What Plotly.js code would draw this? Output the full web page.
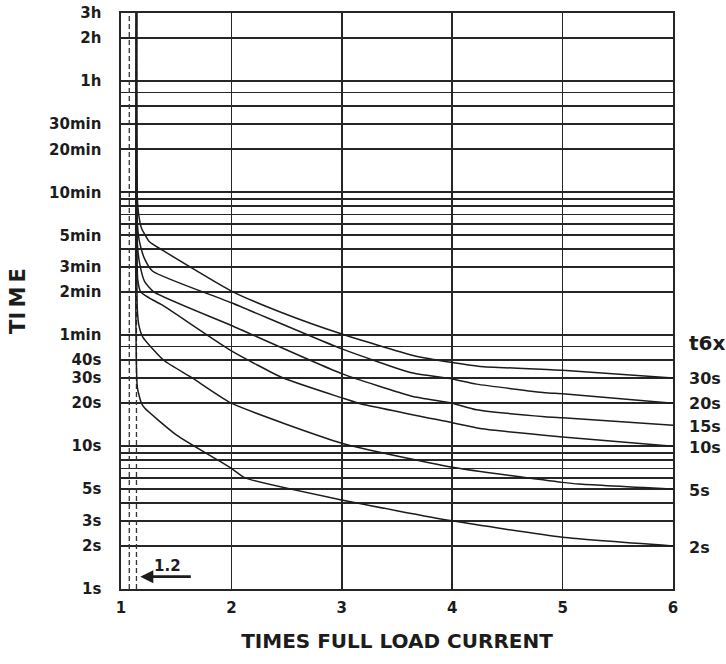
<!DOCTYPE html>
<html>
<head>
<meta charset="utf-8">
<script src="https://cdn.plot.ly/plotly-3.0.1.min.js"></script>
<style>html,body{margin:0;padding:0;background:#fff;}#chart{width:726px;height:664px;}</style>
</head>
<body>
<div id="chart"></div>
<script>
// ---- data ----
const xTickVals = [1, 2, 3, 4, 5, 6];
const yGridSeconds = [1,2,3,4,5,6,7,8,9,10,20,30,40,50,60,120,180,240,300,360,420,480,540,600,1200,1800,2400,3000,3600,7200,10800];
const yTickText = ['1s','2s','3s','','5s','','','','','10s','20s','30s','40s','','1min','2min','3min','','5min','','','','','10min','20min','30min','','','1h','2h','3h'];

// curves named by their trip time at 6x full load current
const curve30sX = [1.14,1.148,1.161,1.185,1.258,1.375,2.0,2.46,3.0,3.646,4.0,4.253,5.0,6.0];
const curve30sY = [10800,550,415,337,270,236,122,86,61,43.2,38.5,36.2,34,30];
const curve20sX = [1.14,1.148,1.17,1.214,1.287,2.0,3.0,3.632,4.0,4.22,4.84,5.0,6.0];
const curve20sY = [10800,365,264,205,168,101,48,32.7,29.6,27.2,23.7,23.3,20];
const curve15sX = [1.14,1.148,1.17,1.214,1.3,2.0,3.0,3.632,4.0,4.22,4.84,5.0,6.0];
const curve15sY = [10800,264,188,142,120,70,32.2,22.4,20,18,16.1,15.8,14];
const curve10sX = [1.14,1.152,1.179,1.258,1.372,2.0,2.47,3.0,3.15,4.0,4.253,5.0,6.0];
const curve10sY = [10800,146,120,109,97.5,46.5,30,21.8,20,14.6,13.3,11.6,10];
const curve5sX = [1.14,1.148,1.164,1.199,1.39,1.639,2.0,3.0,4.0,5.0,5.148,6.0];
const curve5sY = [10800,90,69,57.8,39.8,30.3,20,10.5,7.13,5.58,5.43,5];
const curve2sX = [1.14,1.148,1.185,1.214,1.507,2.0,2.124,3.0,4.0,5.0,6.0];
const curve2sY = [10800,25.8,20,18.5,11.9,7,6,4.2,3,2.3,2];

const dashedLineX = [1.075, 1.14];
const curveLabels = ['30s','20s','15s','10s','5s','2s'];
const curveLabelSeconds = [29.8, 20, 13.7, 9.8, 4.87, 1.95];
const headerLabel = 't6x';
const headerSeconds = 52.8;
const arrowX = 1.175;
const arrowLabel = '1.2';

// ---- build ----
const FONT = 'DejaVu Sans';
const INK = '#1c1c1c';
const traces = [];
const curves = [[curve30sX,curve30sY],[curve20sX,curve20sY],[curve15sX,curve15sY],[curve10sX,curve10sY],[curve5sX,curve5sY],[curve2sX,curve2sY]];
dashedLineX.forEach(function(xv){
  traces.push({x:[xv,xv], y:[yGridSeconds[0], yGridSeconds[yGridSeconds.length-1]], mode:'lines',
    line:{color:'#333', width:1.3, dash:'5px,3px'}, hoverinfo:'skip'});
});
curves.forEach(function(c){
  traces.push({x:c[0], y:c[1], mode:'lines', line:{color:INK, width:1.5, shape:'spline', smoothing:0.5}, hoverinfo:'skip'});
});

const annotations = [];
curveLabels.forEach(function(t,i){
  annotations.push({xref:'paper', yref:'y', x:1.026, y:Math.log10(curveLabelSeconds[i]), text:t,
    showarrow:false, xanchor:'left', yanchor:'middle',
    font:{family:FONT, size:16, weight:'bold', color:INK}});
});
annotations.push({xref:'paper', yref:'y', x:1.026, y:Math.log10(headerSeconds), text:headerLabel,
  showarrow:false, xanchor:'left', yanchor:'middle',
  font:{family:FONT, size:20, weight:'bold', color:INK}});
annotations.push({xref:'x', yref:'y', x:arrowX, y:Math.log10(1.22), text:'', showarrow:true,
  ax:52, ay:0, arrowhead:2, arrowsize:1, arrowwidth:2.6, arrowcolor:INK, standoff:0, startstandoff:0});
annotations.push({xref:'x', yref:'y', x:arrowX + 0.25, y:Math.log10(1.45), text:arrowLabel, showarrow:false,
  xanchor:'center', yanchor:'middle', font:{family:FONT, size:15, weight:'bold', color:INK}});

const layout = {
  width:726, height:664,
  margin:{l:121, r:53, t:13, b:75},
  paper_bgcolor:'#fff', plot_bgcolor:'#fff',
  showlegend:false,
  font:{family:FONT, color:INK},
  xaxis:{
    range:[xTickVals[0], xTickVals[xTickVals.length-1]],
    tickvals:xTickVals, ticktext:xTickVals.map(String),
    showgrid:true, gridcolor:'#262626', gridwidth:1.6,
    showline:true, mirror:true, linecolor:'#262626', linewidth:1.6,
    ticks:'outside', ticklen:4, tickcolor:'rgba(0,0,0,0)',
    zeroline:false,
    tickfont:{family:FONT, size:15, weight:'bold', color:INK},
    title:{text:'TIMES FULL LOAD CURRENT', standoff:18, font:{family:FONT, size:20, weight:'bold', color:INK}}
  },
  yaxis:{
    type:'log',
    range:[Math.log10(yGridSeconds[0]), Math.log10(yGridSeconds[yGridSeconds.length-1])],
    tickvals:yGridSeconds, ticktext:yTickText,
    showgrid:true, gridcolor:'#262626', gridwidth:1.6,
    showline:true, mirror:true, linecolor:'#262626', linewidth:1.6,
    ticks:'outside', ticklen:15, tickcolor:'rgba(0,0,0,0)',
    zeroline:false,
    tickfont:{family:FONT, size:15, weight:'bold', color:INK},
    title:{text:'TI\u2009M\u2009E', standoff:18, font:{family:FONT, size:21, weight:'bold', color:INK}}
  },
  annotations:annotations
};

Plotly.newPlot('chart', traces, layout, {staticPlot:true, displayModeBar:false});
</script>
</body>
</html>
